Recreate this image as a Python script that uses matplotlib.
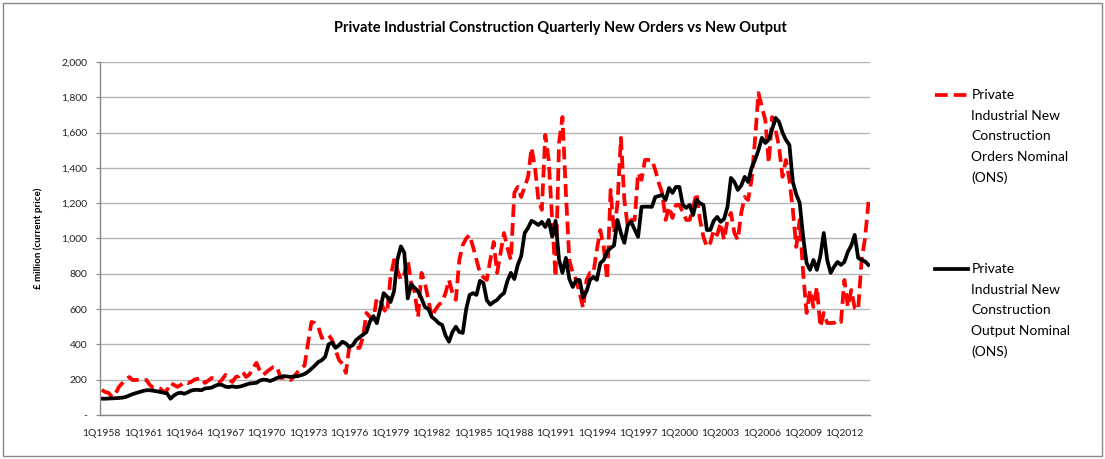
import matplotlib
matplotlib.use('Agg')
import matplotlib.pyplot as plt
from matplotlib.lines import Line2D
from matplotlib.patches import Rectangle
from matplotlib.ticker import FuncFormatter

plt.rcParams['font.family'] = ['Lato', 'DejaVu Sans']

years = list(range(1958, 2014))
quarters = ['%dQ%d' % (q, y) for y in years for q in range(1, 5)]

# Private Industrial New Construction Orders Nominal (ONS), £m per quarter
orders = [
    142, 130, 125, 102,  120, 159, 180, 200,  215, 198, 198, 200,  198, 198, 170, 153,  # 1958-61
    159, 150, 130, 140,  181, 170, 159, 170,  187, 180, 187, 200,  205, 210, 181, 195,  # 1962-65
    210, 200, 181, 200,  227, 200, 187, 215,  220, 244, 215, 230,  266, 295, 250, 227,  # 1966-69
    244, 260, 272, 272,  210, 210, 210, 198,  220, 244, 266, 280,  408, 527, 520, 499,  # 1970-73
    436, 442, 453, 425,  368, 312, 290, 238,  385, 385, 380, 380,  442, 578, 555, 540,  # 1974-77
    663, 652, 600, 578,  782, 878, 820, 765,  800, 878, 748, 700,  555, 805, 748, 650,  # 1978-81
    555, 595, 623, 640,  691, 765, 691, 652,  878, 963, 1000, 1020,  952, 878, 805, 780,  # 1982-85
    765, 878, 980, 805,  918, 1031, 946, 878,  1258, 1292, 1235, 1292,  1349, 1513, 1405, 1218,  # 1986-89
    1162, 1587, 1445, 1105,  782, 1541, 1688, 1258,  878, 805, 765, 691,  606, 765, 805, 805,  # 1990-93
    935, 1048, 952, 765,  1275, 1031, 1200, 1570,  1218, 1065, 1105, 1105,  1371, 1332, 1445, 1445,  # 1994-97
    1445, 1388, 1315, 1258,  1105, 1179, 1116, 1190,  1190, 1150, 1105, 1105,  1179, 1258, 1105, 1009,  # 1998-01
    952, 975, 1048, 1020,  1088, 992, 1105, 1145,  1031, 992, 1145, 1235,  1218, 1332, 1558, 1824,  # 2002-05
    1745, 1671, 1428, 1688,  1615, 1518, 1349, 1445,  1332, 1162, 952, 1105,  805, 578, 708, 612,  # 2006-09
    725, 499, 578, 521,  521, 521, 538, 527,  765, 612, 708, 606,  595, 878, 1000, 1207,  # 2010-13
]

# Private Industrial New Construction Output Nominal (ONS), £m per quarter
output = [
    92, 92, 93, 94,  95, 96, 98, 102,  110, 118, 124, 130,  136, 140, 140, 137,  # 1958-61
    134, 130, 126, 122,  92, 110, 122, 126,  120, 128, 138, 142,  142, 140, 150, 152,  # 1962-65
    155, 165, 172, 170,  160, 158, 162, 158,  160, 165, 172, 178,  180, 182, 195, 200,  # 1966-69
    198, 192, 200, 210,  215, 220, 218, 215,  218, 220, 225, 232,  245, 262, 280, 300,  # 1970-73
    310, 330, 400, 410,  380, 395, 415, 405,  385, 395, 425, 440,  455, 470, 530, 560,  # 1974-77
    520, 600, 690, 670,  640, 700, 880, 955,  920, 660, 740, 720,  700, 660, 612, 600,  # 1978-81
    555, 540, 520, 510,  450, 415, 470, 500,  470, 465, 600, 680,  690, 680, 760, 748,  # 1982-85
    650, 625, 640, 652,  675, 690, 760, 805,  770, 850, 900, 1030,  1060, 1100, 1090, 1076,  # 1986-89
    1094, 1065, 1105, 1010,  1100, 880, 805, 890,  770, 725, 765, 765,  665, 700, 765, 782,  # 1990-93
    765, 860, 878, 924,  946, 960, 1105, 1030,  975, 1076, 1094, 1050,  1009, 1179, 1180, 1180,  # 1994-97
    1179, 1235, 1240, 1247,  1218, 1286, 1258, 1292,  1292, 1190, 1173, 1190,  1133, 1218, 1200, 1190,  # 1998-01
    1048, 1048, 1100, 1122,  1094, 1110, 1179, 1343,  1320, 1275, 1300, 1349,  1320, 1400, 1445, 1500,  # 2002-05
    1570, 1541, 1560, 1620,  1683, 1660, 1600, 1558,  1530, 1320, 1250, 1201,  1009, 861, 822, 878,  # 2006-09
    822, 900, 1031, 878,  805, 840, 867, 850,  867, 924, 960, 1020,  890, 878, 870, 850,  # 2010-13
]

orders_label = 'Private\nIndustrial New\nConstruction\nOrders Nominal\n(ONS)'
output_label = 'Private\nIndustrial New\nConstruction\nOutput Nominal\n(ONS)'

fig = plt.figure(figsize=(11.05, 4.59), dpi=100)
ax = fig.add_axes([0.0905, 0.096, 0.697, 0.769])

x = list(range(len(quarters)))
ax.plot(x, orders, color='#ff0000', lw=2.7, ls=(0, (3.4, 1.6)), label=orders_label)
ax.plot(x, output, color='black', lw=2.7, label=output_label)

ax.set_xlim(-0.5, len(quarters) - 0.5)
ax.set_ylim(0, 2000)
ax.set_yticks(range(0, 2001, 200))
ax.yaxis.set_major_formatter(FuncFormatter(lambda v, p: '-' if v == 0 else '{:,.0f}'.format(v)))
ax.set_xticks(x[::12])
ax.set_xticklabels(quarters[::12])
ax.tick_params(axis='both', labelsize=7.5, colors='#222222', length=3, width=0.8)
ax.tick_params(axis='x', length=0, pad=10)
ax.tick_params(axis='y', color='#888888', pad=6)

ax.grid(axis='y', color='#b4b4b4', lw=1)
ax.set_axisbelow(True)
for s in ['top', 'right']:
    ax.spines[s].set_visible(False)
for s in ['left', 'bottom']:
    ax.spines[s].set_color('#888888')
    ax.spines[s].set_linewidth(1)

ax.set_ylabel('£ million (current price)', fontsize=7, fontweight='bold', labelpad=13)
fig.text(0.507, 0.94, 'Private Industrial Construction Quarterly New Orders vs New Output',
         ha='center', va='center', fontsize=10.5, fontweight='bold')

# legend drawn by hand, handle next to first line of each label
for lab, color, style, ytop in [(orders_label, '#ff0000', (0, (3.4, 1.6)), 0.793),
                                (output_label, 'black', '-', 0.414)]:
    fig.add_artist(Line2D([0.846, 0.876], [ytop, ytop], transform=fig.transFigure,
                          color=color, lw=2.7, ls=style))
    fig.text(0.879, ytop + 0.013, lab, ha='left', va='top', fontsize=10, linespacing=1.85)

fig.add_artist(Rectangle((0.003, 0.006), 0.994, 0.988, transform=fig.transFigure,
                         fill=False, edgecolor='#888888', lw=1))

fig.savefig('out.png', dpi=100)
